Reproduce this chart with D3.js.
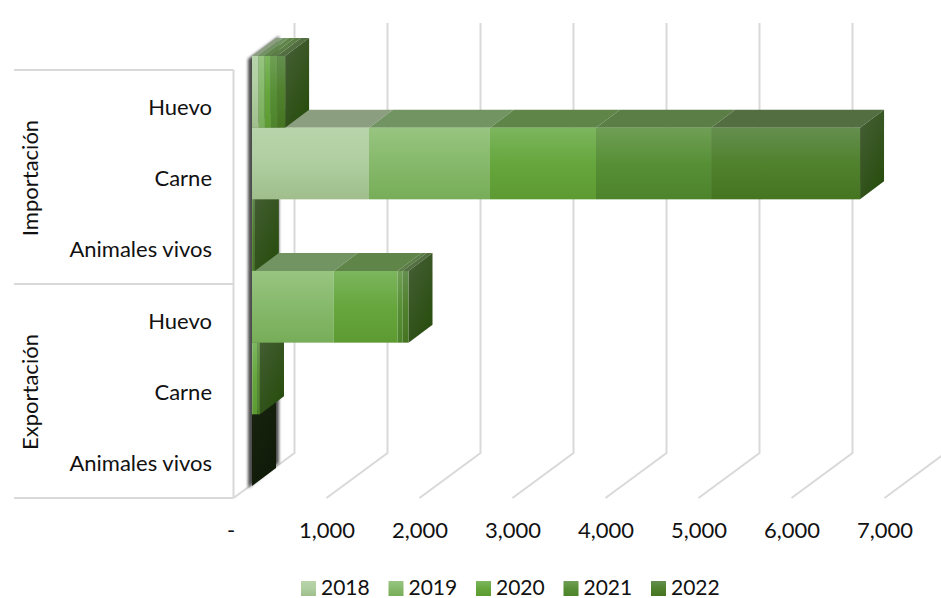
<!DOCTYPE html>
<html>
<head>
<meta charset="utf-8">
<script src="https://cdn.jsdelivr.net/npm/d3@7/dist/d3.min.js"></script>
<style>
  html, body { margin: 0; padding: 0; background: #fff; }
  svg { display: block; }
  text { font-family: Lato, "Open Sans", sans-serif; fill: #111; }
</style>
</head>
<body>
<div id="chart"></div>
<script>
var years = ["2018", "2019", "2020", "2021", "2022"];
var groups = ["Importación", "Exportación"];
var products = ["Huevo", "Carne", "Animales vivos", "Huevo", "Carne", "Animales vivos"];
var xTicks = [0, 1000, 2000, 3000, 4000, 5000, 6000, 7000];

// one value per row, top to bottom
var v2018 = [72, 1258, 0, 0, 0, 0];
var v2019 = [65, 1301, 0, 880, 10, 0];
var v2020 = [65, 1140, 8, 685, 50, 0];
var v2021 = [68, 1237, 8, 55, 15, 0];
var v2022 = [86, 1602, 14, 63, 11, 0];

var frontTop = ["#b8d4aa", "#98c581", "#7cb65e", "#6f9f55", "#648f4f"];
var frontMid = ["#afcea0", "#86b96b", "#66a63d", "#578f36", "#50812d"];
var frontBottom = ["#9fbe8c", "#77ad58", "#5d9b32", "#4d842b", "#467522"];
var topColors = ["#8b9f80", "#729462", "#5f8549", "#5a7e45", "#536e40"];

var width = 941, height = 598;
var labelSize = 22;

var svg = d3.select("#chart").append("svg")
  .attr("width", width)
  .attr("height", height);

var defs = svg.append("defs");

var x = d3.scaleLinear().domain([0, 7000]).range([233.5, 884.5]);
var y = d3.scaleBand().domain(d3.range(products.length)).range([70, 498]);
var yBars = d3.scaleBand().domain(d3.range(products.length)).range([56, 486]);

// the 3d box: wall depth, where the bars sit in it and how deep they are
var wallX = 61, wallY = 45;
var barShiftX = 18.5;
var barDepthX = 24, barDepthY = 18;

var rows = products.map(function(p, i) {
  var o = { row: i };
  o[years[0]] = v2018[i];
  o[years[1]] = v2019[i];
  o[years[2]] = v2020[i];
  o[years[3]] = v2021[i];
  o[years[4]] = v2022[i];
  return o;
});
var stacked = d3.stack().keys(years)(rows);

years.forEach(function(yr, i) {
  var g = defs.append("linearGradient").attr("id", "front" + yr)
    .attr("x1", 0).attr("y1", 0).attr("x2", 0).attr("y2", 1);
  g.append("stop").attr("offset", "0%").attr("stop-color", frontTop[i]);
  g.append("stop").attr("offset", "50%").attr("stop-color", frontMid[i]);
  g.append("stop").attr("offset", "100%").attr("stop-color", frontBottom[i]);
});

var sideGrad = defs.append("linearGradient").attr("id", "side")
  .attr("x1", 0).attr("y1", 0).attr("x2", 0.6).attr("y2", 1);
sideGrad.append("stop").attr("offset", "0%").attr("stop-color", "#475f37");
sideGrad.append("stop").attr("offset", "100%").attr("stop-color", "#294e10");

var darkGrad = defs.append("linearGradient").attr("id", "sideDark")
  .attr("x1", 0).attr("y1", 0).attr("x2", 0.6).attr("y2", 1);
darkGrad.append("stop").attr("offset", "0%").attr("stop-color", "#18240f");
darkGrad.append("stop").attr("offset", "100%").attr("stop-color", "#101a08");

defs.append("filter").attr("id", "blur")
  .attr("x", "-30%").attr("y", "-5%").attr("width", "160%").attr("height", "110%")
  .append("feGaussianBlur").attr("stdDeviation", 1.6);

function poly(pts) {
  return pts.map(function(p) { return p[0] + "," + p[1]; }).join(" ");
}

// gridlines on back wall and floor
var floorY = y.range()[1];
var grid = svg.append("g");
xTicks.forEach(function(t) {
  grid.append("polyline")
    .attr("points", poly([[x(t) + wallX, 23], [x(t) + wallX, floorY - wallY], [x(t), floorY]]))
    .attr("fill", "none")
    .attr("stroke", "#d9d9d9")
    .attr("stroke-width", 2);
});

// category frame
var frame = svg.append("g")
  .attr("stroke", "#d9d9d9").attr("stroke-width", 2).attr("fill", "none");
[0, 3, 6].forEach(function(i) {
  var yy = i < 6 ? y(i) : floorY;
  frame.append("line").attr("x1", 14).attr("x2", x(0)).attr("y1", yy).attr("y2", yy);
});
frame.append("line").attr("x1", x(0)).attr("x2", x(0)).attr("y1", y(0)).attr("y2", floorY);

// shadow of the empty series, on the wall behind the bars
var barLeft = x(0) + barShiftX;
var top0 = yBars.range()[0];
var bottom0 = yBars.range()[1];
svg.append("polygon")
  .attr("points", poly([
    [barLeft - 4, top0 + 3],
    [barLeft + barDepthX + 3, top0 - barDepthY - 2],
    [barLeft + barDepthX + 3, bottom0 - barDepthY - 5],
    [barLeft - 4, bottom0 + 2]
  ]))
  .attr("fill", "#4d4d4d")
  .attr("filter", "url(#blur)");

// bars, lower rows first so the upper ones sit over their top faces
var bars = svg.append("g");
d3.range(products.length - 1, -1, -1).forEach(function(r) {
  var yTop = yBars(r);
  var yBot = yTop + yBars.bandwidth();
  var g = bars.append("g");

  stacked.forEach(function(s, i) {
    var x0 = x(s[r][0]) + barShiftX, x1 = x(s[r][1]) + barShiftX;
    if (x1 <= x0) return;
    g.append("polygon")
      .attr("points", poly([
        [x0, yTop], [x0 + barDepthX, yTop - barDepthY],
        [x1 + barDepthX, yTop - barDepthY], [x1, yTop]
      ]))
      .attr("fill", topColors[i]);
  });

  var total = stacked[stacked.length - 1][r][1];
  var xEnd = x(total) + barShiftX;
  g.append("polygon")
    .attr("points", poly([
      [xEnd, yTop], [xEnd + barDepthX, yTop - barDepthY],
      [xEnd + barDepthX, yBot - barDepthY], [xEnd, yBot]
    ]))
    .attr("fill", total > 0 ? "url(#side)" : "url(#sideDark)");

  stacked.forEach(function(s) {
    var x0 = x(s[r][0]) + barShiftX, x1 = x(s[r][1]) + barShiftX;
    if (x1 <= x0) return;
    g.append("rect")
      .attr("x", x0).attr("y", yTop)
      .attr("width", x1 - x0).attr("height", yBars.bandwidth())
      .attr("fill", "url(#front" + s.key + ")");
  });
});

// value axis
var xAxis = d3.axisBottom(x)
  .tickValues(xTicks)
  .tickSize(0)
  .tickPadding(0)
  .tickFormat(function(d) { return d === 0 ? "-" : d3.format(",")(d); });

var xG = svg.append("g")
  .attr("transform", "translate(0,522)")
  .call(xAxis);
xG.select(".domain").remove();
xG.selectAll("text").attr("font-size", labelSize).style("font-family", "Lato, sans-serif");
xG.selectAll(".tick").filter(function(d) { return d === 0; })
  .select("text").attr("dx", -3);

// product axis
var yAxis = d3.axisLeft(y)
  .tickSize(0)
  .tickPadding(0)
  .tickFormat(function(d) { return products[d]; });

var yG = svg.append("g")
  .attr("transform", "translate(212,2)")
  .call(yAxis);
yG.select(".domain").remove();
yG.selectAll("text").attr("font-size", labelSize).style("font-family", "Lato, sans-serif");

// group labels
groups.forEach(function(name, i) {
  var yy = (y(i * 3) + (i === 0 ? y(3) : floorY)) / 2 + 1;
  svg.append("text")
    .attr("transform", "translate(38," + yy + ") rotate(-90)")
    .attr("text-anchor", "middle")
    .attr("font-size", labelSize)
    .text(name);
});

// legend
var legendX = d3.scalePoint().domain(years).range([301, 651]);
var legend = svg.append("g").selectAll("g")
  .data(years)
  .enter().append("g")
  .attr("transform", function(d) { return "translate(" + legendX(d) + ",581)"; });

legend.append("rect")
  .attr("width", 15).attr("height", 15)
  .attr("fill", function(d) { return "url(#front" + d + ")"; });

legend.append("text")
  .attr("x", 20).attr("y", 14)
  .attr("font-size", 21)
  .text(function(d) { return d; });
</script>
</body>
</html>
